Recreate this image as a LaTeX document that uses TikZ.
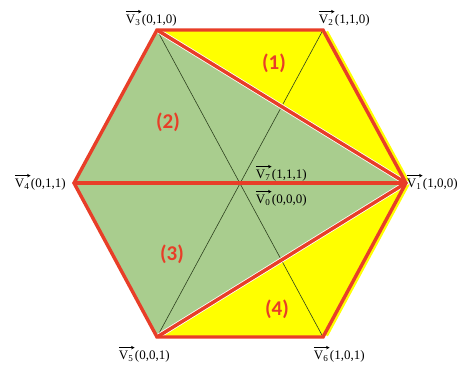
\documentclass[tikz,border=0pt]{standalone}
\usepackage{fontspec}
\setmainfont{Liberation Serif}
\newfontfamily\numfont{Carlito}
\usetikzlibrary{math, arrows.meta}
\definecolor{hexgreen}{RGB}{169,205,142}
\definecolor{hexyellow}{RGB}{255,255,0}
\definecolor{hexred}{RGB}{232,62,40}
\definecolor{hexdark}{RGB}{45,65,30}
\tikzset{
  redline/.style={draw=hexred, line width=3.4pt, line join=miter},
  thinline/.style={draw=hexdark, line width=0.6pt},
  veclabel/.style={inner sep=0pt, font=\fontsize{13}{15}\selectfont},
  sector/.style={text=hexred, inner sep=0pt, font=\numfont\bfseries\fontsize{21}{24}\selectfont},
}
\newcommand{\vlab}[2]{\tikz[baseline=(vv.base)]{%
  \node[inner sep=0pt] (vv) {V\textsubscript{#1}};
  \draw[-{Stealth[length=3.5pt,width=3.5pt]}, line width=0.7pt]
    ([yshift=3pt]vv.north west) -- ([yshift=3pt, xshift=1pt]vv.north east);}(#2)}

\begin{document}
\begin{tikzpicture}[x=1pt, y=-1pt]
\useasboundingbox (0,0) rectangle (458,365);

% corners of the hexagon
\coordinate (v1) at (406,183);
\coordinate (v2) at (323,30);
\coordinate (v3) at (157,30);
\coordinate (v4) at (74,183);
\coordinate (v5) at (157,337);
\coordinate (v6) at (323,337);

% regions
\fill[hexgreen] (v3) -- (v1) -- (v5) -- (v4) -- cycle;
\draw[hexyellow, line width=8pt, line join=round, shorten <=3pt, shorten >=3pt] (v2) -- (v1) -- (v6);
\fill[hexyellow] (v3) -- (v2) -- (v1) -- cycle;
\fill[hexyellow] (v5) -- (v1) -- (v6) -- cycle;

\draw[thinline] (v3) -- (v6);
\draw[thinline] (v2) -- (v5);

\draw[white, line width=5pt] (v3) -- (v1) -- (v5);
\draw[redline] (v1) -- (v2) -- (v3) -- (v4) -- (v5) -- (v6) -- cycle;
\draw[redline] (v3) -- (v1);
\draw[redline] (v5) -- (v1);
\draw[redline] (v4) -- (v1);

% vectors
\node[veclabel] (l3) at (151,18) {\vlab{3}{0,1,0}};
\node[veclabel] (l2) at (344,18) {\vlab{2}{1,1,0}};
\node[veclabel] (l4) at (40,182) {\vlab{4}{0,1,1}};
\node[veclabel] (l1) at (432,182) {\vlab{1}{1,0,0}};
\node[veclabel] (l7) at (281,173) {\vlab{7}{1,1,1}};
\node[veclabel] (l0) at (281,198) {\vlab{0}{0,0,0}};
\node[veclabel] (l5) at (144,354) {\vlab{5}{0,0,1}};
\node[veclabel] (l6) at (339,354) {\vlab{6}{1,0,1}};

% sectors
\node[sector] (s1) at (274,63) {(1)};
\node[sector] (s2) at (168,122) {(2)};
\node[sector] (s3) at (172,254) {(3)};
\node[sector] (s4) at (277,309) {(4)};
\end{tikzpicture}
\end{document}
